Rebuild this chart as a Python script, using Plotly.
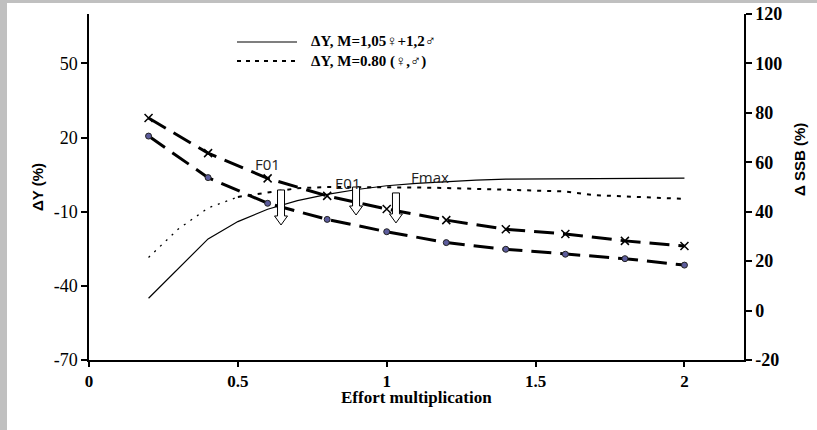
import plotly.graph_objects as go

# ---- data ----
effort_yield = [0.2, 0.3, 0.4, 0.5, 0.6, 0.7, 0.8, 0.9, 1.0, 1.1, 1.2, 1.3, 1.4, 1.5, 1.6, 1.7, 1.8, 1.9, 2.0]
dy_m105 = [-45, -33, -21, -14, -9, -5.5, -3, -1, 0.5, 1.5, 2.3, 2.8, 3.2, 3.3, 3.4, 3.6, 3.6, 3.6, 3.6]
dy_m080 = [-28.5, -17, -8.5, -4, -2.3, -0.5, 0, 0, 0, -0.2, -0.4, -0.8, -1.2, -1.4, -1.8, -3.3, -3.8, -4.3, -4.8]

effort_ssb = [0.2, 0.4, 0.6, 0.8, 1.0, 1.2, 1.4, 1.6, 1.8, 2.0]
dssb_cross = [77.9, 63.7, 53.5, 46.4, 41.1, 36.6, 32.9, 31.0, 28.2, 26.1]
dssb_circle = [70.6, 53.8, 43.4, 36.9, 31.9, 27.5, 24.8, 22.8, 21.0, 18.4]

x_ticks = [0, 0.5, 1, 1.5, 2]
x_tick_text = ["0", "0.5", "1", "1.5", "2"]
y_ticks = [-70, -40, -10, 20, 50]
y_tick_text = ["-70", "-40", "-10", "20", "50"]
y2_ticks = [-20, 0, 20, 40, 60, 80, 100, 120]
y2_tick_text = ["-20", "0", "20", "40", "60", "80", "100", "120"]

legend_labels = ["ΔY, M=1,05♀+1,2♂", "ΔY, M=0.80 (♀,♂)"]
ref_labels = ["F01", "E01", "Fmax"]
ref_x = [0.601, 0.869, 1.145]
ref_y = [9.3, 1.6, 4.0]
arrow_x = [0.645, 0.897, 1.031]
arrow_top = [-1.2, 0.0, -2.4]
arrow_len = [35, 28, 30]

SERIF = "Liberation Serif"
SANS = "Liberation Sans"

fig = go.Figure()

fig.add_trace(go.Scatter(x=effort_yield, y=dy_m105, mode="lines", name=legend_labels[0],
                         line=dict(color="black", width=1.2), showlegend=False))
fig.add_trace(go.Scatter(x=effort_yield[:4], y=dy_m080[:4], mode="lines", name=legend_labels[1],
                         line=dict(color="black", width=1.3, dash="2px,6px"), showlegend=False))
fig.add_trace(go.Scatter(x=effort_yield[3:], y=dy_m080[3:], mode="lines", name=legend_labels[1],
                         line=dict(color="black", width=2, dash="4px,6px"), showlegend=False))

fig.add_trace(go.Scatter(x=effort_ssb, y=dssb_cross, yaxis="y2", mode="lines+markers", name="ΔSSB a",
                         line=dict(color="black", width=3, dash="20px,9px"),
                         marker=dict(symbol="x-thin", size=8, line=dict(color="black", width=1.5)),
                         showlegend=False))
fig.add_trace(go.Scatter(x=effort_ssb, y=dssb_circle, yaxis="y2", mode="lines+markers", name="ΔSSB b",
                         line=dict(color="black", width=3, dash="20px,9px"),
                         marker=dict(symbol="circle", size=6, color="#5c5c9c", line=dict(color="#222", width=1)),
                         showlegend=False))

L, R, T, B = 89, 73, 14, 70
W, H = 817, 430
pw, ph = W - L - R, H - T - B


def px2paper_x(px):
    return (px - L) / pw


def px2paper_y(py):
    return (H - B - py) / ph


shapes = []
# background: gray frame, white inner area
shapes.append(dict(type="rect", xref="paper", yref="paper", layer="below",
                   x0=px2paper_x(7), x1=px2paper_x(830), y0=px2paper_y(440), y1=px2paper_y(3),
                   fillcolor="white", line=dict(width=0)))

# hollow down-arrows
for ax, at, al in zip(arrow_x, arrow_top, arrow_len):
    hl = 9
    path = (f"M -3.5,0 L 3.5,0 L 3.5,{-(al - hl)} L 6.5,{-(al - hl)} L 0,{-al} "
            f"L -6.5,{-(al - hl)} L -3.5,{-(al - hl)} Z")
    shapes.append(dict(type="path", xref="x", yref="y", xsizemode="pixel", ysizemode="pixel",
                       xanchor=ax, yanchor=at, path=path, fillcolor="white",
                       line=dict(color="black", width=1), layer="above"))

# legend sample lines
shapes.append(dict(type="line", xref="paper", yref="paper", x0=px2paper_x(237), x1=px2paper_x(297),
                   y0=px2paper_y(42), y1=px2paper_y(42), line=dict(color="black", width=1.2)))
shapes.append(dict(type="line", xref="paper", yref="paper", x0=px2paper_x(237), x1=px2paper_x(297),
                   y0=px2paper_y(61), y1=px2paper_y(61), line=dict(color="black", width=2, dash="4px,5px")))

annotations = []
for i, (lab, py) in enumerate(zip(legend_labels, [41, 61])):
    annotations.append(dict(xref="paper", yref="paper", x=px2paper_x(309), y=px2paper_y(py),
                            text=lab, showarrow=False, xanchor="left", yanchor="middle",
                            font=dict(family=SERIF, size=15, color="black", weight="bold")))

for lab, xx, yy in zip(ref_labels, ref_x, ref_y):
    annotations.append(dict(x=xx, y=yy, xref="x", yref="y", text=lab, showarrow=False,
                            font=dict(family="Open Sans", size=15, color="#222")))

annotations.append(dict(xref="paper", yref="paper", x=0.5, y=px2paper_y(397), text="Effort multiplication",
                        xanchor="center", yanchor="middle", showarrow=False,
                        font=dict(family=SERIF, size=17, color="black", weight="bold")))
annotations.append(dict(xref="paper", yref="paper", x=px2paper_x(37), y=0.5, text="ΔY (%)", textangle=-90,
                        xanchor="center", yanchor="middle", showarrow=False,
                        font=dict(family=SANS, size=15, color="black", weight="bold")))
annotations.append(dict(xref="paper", yref="paper", x=px2paper_x(800), y=px2paper_y(160), text="Δ SSB (%)",
                        textangle=-90, xanchor="center", yanchor="middle", showarrow=False,
                        font=dict(family=SANS, size=15, color="black", weight="bold")))

fig.update_layout(
    width=W, height=H,
    margin=dict(l=L, r=R, t=T, b=B, autoexpand=False),
    paper_bgcolor="#c0c0c0", plot_bgcolor="white",
    showlegend=False,
    xaxis=dict(range=[0, 2.2], tickvals=x_ticks, ticktext=x_tick_text, showgrid=False, zeroline=False,
               showline=True, linecolor="black", linewidth=1.5, ticks="outside", ticklen=5,
               tickcolor="black", tickwidth=1.5, ticklabelstandoff=0,
               tickfont=dict(family=SERIF, size=17, color="black", weight="bold")),
    yaxis=dict(range=[-70, 70], tickvals=y_ticks, ticktext=y_tick_text, showgrid=False, zeroline=False,
               showline=True, linecolor="black", linewidth=1.5, ticks="outside", ticklen=6,
               tickcolor="black", tickwidth=1.5,
               tickfont=dict(family=SERIF, size=18, color="black")),
    yaxis2=dict(range=[-20, 120], tickvals=y2_ticks, ticktext=y2_tick_text, overlaying="y", side="right",
                showgrid=False, zeroline=False, showline=True, linecolor="black", linewidth=1.5,
                ticks="outside", ticklen=6, tickcolor="black", tickwidth=1.5,
                tickfont=dict(family=SERIF, size=18, color="black", weight="bold")),
    shapes=shapes,
    annotations=annotations,
)

fig.write_html("out.html", config={"displayModeBar": False},
               post_script="document.body.style.margin='0';document.body.style.overflow='hidden';")
